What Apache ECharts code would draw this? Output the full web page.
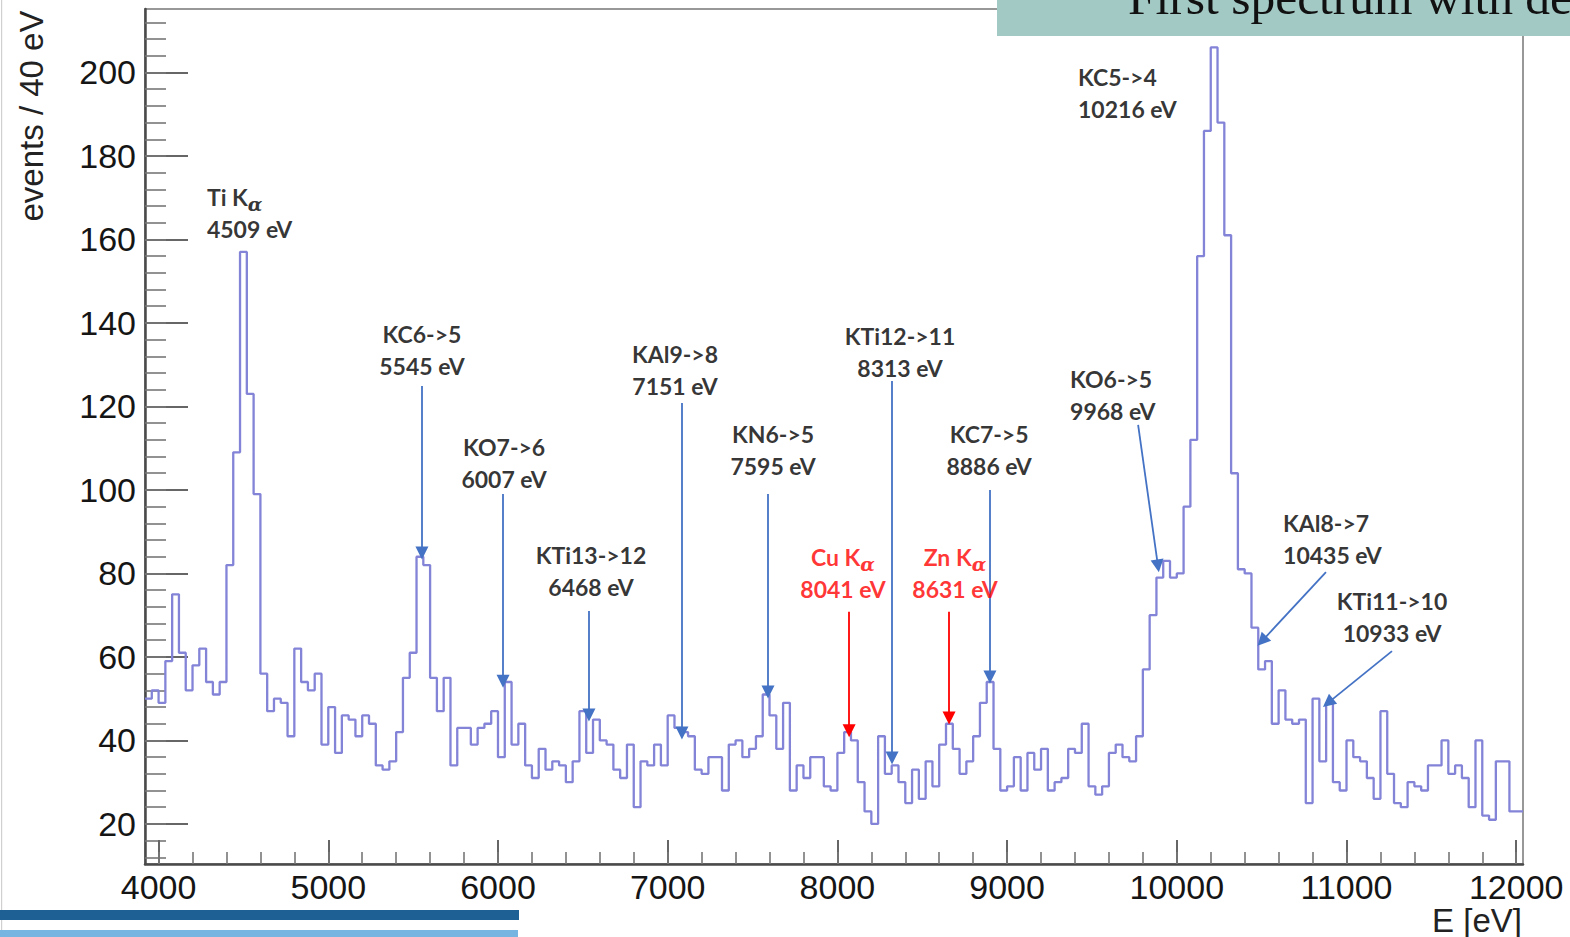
<!DOCTYPE html>
<html><head><meta charset="utf-8">
<script src="https://cdn.jsdelivr.net/npm/echarts@6/dist/echarts.min.js"></script>
<style>html,body{margin:0;padding:0;background:#fff;overflow:hidden}#c{width:1570px;height:937px}</style>
</head><body><div id="c"></div>
<script>
// ---------- DATA ----------
const binStart = 3920;      // eV, low edge of first bin
const binWidth = 40;        // eV per bin
const counts = [
  50,52,49,59,75,61,52,58,62,54, 51,54,82,109,157,123,99,56,47,50,
  49,41,62,54,52,56,39,48,37,46, 45,41,46,44,34,33,35,42,55,61,
  84,82,55,47,55,34,43,43,39,43, 44,47,36,54,39,44,34,31,38,33,
  35,34,30,35,47,37,45,40,39,33, 31,39,24,35,34,39,34,46,43,42,
  41,33,32,36,36,28,39,40,36,38, 41,51,46,38,49,28,34,31,36,36,
  29,28,37,42,40,30,23,20,41,32, 34,30,25,33,26,35,29,39,44,38,
  32,35,41,49,54,38,28,29,36,28, 37,33,38,28,30,31,38,37,44,29,
  27,29,37,39,36,35,41,57,70,79, 83,79,80,96,112,156,186,206,188,161,
  104,81,80,67,57,59,44,52,45,44, 45,25,50,35,49,30,28,40,36,35,
  31,26,47,32,25,24,30,29,28,34, 34,40,32,34,31,24,40,22,21,35,
  35,23,23
];
const xTickLabels = [4000,5000,6000,7000,8000,9000,10000,11000,12000];
const yTickLabels = [20,40,60,80,100,120,140,160,180,200];
const xRange = [3920, 12040];
const yRange = [10.4, 215.2];

// peak annotations: label anchor [E, counts], arrow [from, to] in data units
const annotations = [
  {main:'Ti K', sub:'α', energy:'4509 eV', color:'#000', at:[4285,166.3], align:'left', arrow:null},
  {main:'KC6->5', energy:'5545 eV', color:'#000', at:[5552,133.5], align:'center', arrow:[[5552,124.9],[5552,84.9]]},
  {main:'KO7->6', energy:'6007 eV', color:'#000', at:[6036,106.5], align:'center', arrow:[[6030,99.0],[6030,54.2]]},
  {main:'KTi13->12', energy:'6468 eV', color:'#000', at:[6548,80.6], align:'center', arrow:[[6536,71.0],[6536,46.1]]},
  {main:'KAl9->8', energy:'7151 eV', color:'#000', at:[7043,128.7], align:'center', arrow:[[7084,120.8],[7084,41.8]]},
  {main:'KN6->5', energy:'7595 eV', color:'#000', at:[7621,109.6], align:'center', arrow:[[7591,99.0],[7591,51.6]]},
  {main:'Cu K', sub:'α', energy:'8041 eV', color:'#ff0000', at:[8033,80.1], align:'center', arrow:[[8069,70.8],[8069,42.3]]},
  {main:'KTi12->11', energy:'8313 eV', color:'#000', at:[8369,133.0], align:'center', arrow:[[8322,126.1],[8322,35.8]]},
  {main:'Zn K', sub:'α', energy:'8631 eV', color:'#ff0000', at:[8693,80.1], align:'center', arrow:[[8658,70.8],[8658,45.4]]},
  {main:'KC7->5', energy:'8886 eV', color:'#000', at:[8894,109.6], align:'center', arrow:[[8899,100.0],[8899,55.2]]},
  {main:'KO6->5', energy:'9968 eV', color:'#000', at:[9371,122.7], align:'left', arrow:[[9772,115.6],[9889,81.8]]},
  {main:'KC5->4', energy:'10216 eV', color:'#000', at:[9418,195.1], align:'left', arrow:null},
  {main:'KAl8->7', energy:'10435 eV', color:'#000', at:[10626,88.3], align:'left', arrow:[[10879,80.3],[10502,63.8]]},
  {main:'KTi11->10', energy:'10933 eV', color:'#000', at:[11268,69.6], align:'center', arrow:[[11268,61.4],[10891,49.0]]}
];

// ---------- BUILD ----------
const histData = counts.map((c, k) => [binStart + k * binWidth, c]);
histData.push([binStart + counts.length * binWidth, counts[counts.length - 1]]);

const xMinor = []; for (let e = 4000; e <= 12000; e += 200) xMinor.push(e);
const yMinor = []; for (let v = 12; v <= 212; v += 4) yMinor.push(v);

const labelData = annotations.map(a => ({
  value: a.at,
  label: {
    align: a.align,
    formatter: a.sub ? `{t|${a.main}}{s|${a.sub}}\n{t|${a.energy}}` : `{t|${a.main}}\n{t|${a.energy}}`,
    rich: {
      t: {color: a.color, fontSize: 23, fontWeight: 'bold', fontFamily: 'Lato', lineHeight: 32},
      s: {color: a.color, fontSize: 19, fontStyle: 'italic', fontWeight: 'bold', fontFamily: 'DejaVu Serif', lineHeight: 18, verticalAlign: 'bottom'}
    }
  }
}));
const arrowData = annotations.filter(a => a.arrow).map(a => [
  {coord: a.arrow[0], lineStyle: {color: a.color === '#ff0000' ? '#ff0000' : '#4472c4'}},
  {coord: a.arrow[1]}
]);

const axisFont = {fontSize: 34, fontFamily: 'Liberation Sans', color: '#151515', formatter: v => String(v)};

const chart = echarts.init(document.getElementById('c'), null, {renderer: 'svg'});
chart.setOption({
  animation: false,
  backgroundColor: '#fff',
  grid: {left: 145, top: 9, right: 47, bottom: 73, show: true, borderColor: '#777', borderWidth: 1.5, backgroundColor: 'transparent'},
  xAxis: [
    {type: 'value', min: xRange[0], max: xRange[1], position: 'bottom',
     axisLine: {show: true, onZero: false, lineStyle: {color: '#4a4a4a', width: 2.5}},
     axisTick: {show: true, inside: true, length: 24, customValues: xTickLabels, lineStyle: {color: '#666', width: 2}},
     axisLabel: Object.assign({show: true, margin: 6, customValues: xTickLabels}, axisFont),
     splitLine: {show: false}},
    {type: 'value', min: xRange[0], max: xRange[1], position: 'bottom',
     axisLine: {show: false},
     axisTick: {show: true, inside: true, length: 12, customValues: xMinor, lineStyle: {color: '#777', width: 1.6}},
     axisLabel: {show: false}, splitLine: {show: false}}
  ],
  yAxis: [
    {type: 'value', min: yRange[0], max: yRange[1], position: 'left',
     axisLine: {show: true, onZero: false, lineStyle: {color: '#4a4a4a', width: 2.5}},
     axisTick: {show: true, inside: true, length: 43, customValues: yTickLabels, lineStyle: {color: '#666', width: 2}},
     axisLabel: Object.assign({show: true, margin: 9, customValues: yTickLabels}, axisFont),
     splitLine: {show: false}},
    {type: 'value', min: yRange[0], max: yRange[1], position: 'left',
     axisLine: {show: false},
     axisTick: {show: true, inside: true, length: 21, customValues: yMinor, lineStyle: {color: '#777', width: 1.6}},
     axisLabel: {show: false}, splitLine: {show: false}}
  ],
  series: [
    {type: 'line', name: 'spectrum', xAxisIndex: 0, yAxisIndex: 0, step: 'end', symbol: 'none',
     data: histData, lineStyle: {color: '#8383d8', width: 2.3}, z: 3},
    {type: 'scatter', name: 'labels', xAxisIndex: 0, yAxisIndex: 0, symbolSize: 0, silent: true,
     data: labelData, label: {show: true, position: 'inside', verticalAlign: 'middle'}, z: 5,
     markLine: {silent: true, symbol: ['none', 'triangle'], symbolSize: 13, label: {show: false},
       lineStyle: {width: 1.8, type: 'solid'}, data: arrowData}}
  ],
  graphic: [
    {type: 'rect', z: 100, shape: {x: 1, y: 0, width: 1.2, height: 937}, style: {fill: '#d0d0d0'}},
    {type: 'rect', z: 100, shape: {x: 997, y: 0, width: 573, height: 36}, style: {fill: '#a3c9c5'}},
    {type: 'text', z: 101, x: 1128, y: -3, style: {text: 'First spectrum with degraders', font: '49.5px "Liberation Serif"', fill: '#111', textAlign: 'left', textVerticalAlign: 'middle'}},
    {type: 'rect', z: 100, shape: {x: 0, y: 910, width: 519, height: 10}, style: {fill: '#1f6094'}},
    {type: 'rect', z: 100, shape: {x: 0, y: 930, width: 518, height: 7}, style: {fill: '#76b5e2'}},
    {type: 'text', z: 100, x: 31, y: 116, rotation: Math.PI / 2, style: {text: 'events / 40 eV', font: '33px "Liberation Sans"', fill: '#222', textAlign: 'center', textVerticalAlign: 'middle'}},
    {type: 'text', z: 100, x: 1522, y: 920, style: {text: 'E [eV]', font: '33px "Liberation Sans"', fill: '#222', textAlign: 'right', textVerticalAlign: 'middle'}}
  ]
});
</script></body></html>
